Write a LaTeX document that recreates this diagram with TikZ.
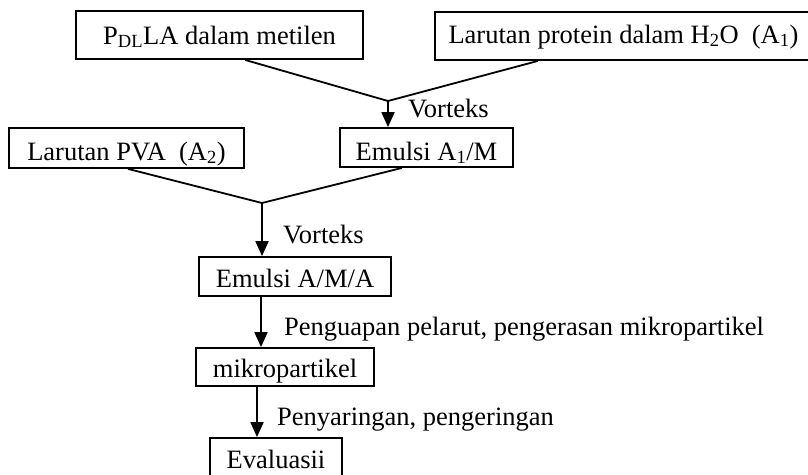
\documentclass[tikz,border=0pt]{standalone}
\usepackage{fontspec}
\setmainfont{Liberation Serif}
\usetikzlibrary{arrows.meta}
\tikzset{
  stepbox/.style={draw=black, line width=1.8pt, inner sep=0pt, align=center},
  joinline/.style={draw=black, line width=1.8pt},
  flowarrow/.style={draw=black, line width=1.8pt, -{Triangle[width=13pt,length=15pt]}},
  steplabel/.style={anchor=base west, inner sep=0pt},
}
\begin{document}
\begin{tikzpicture}[x=1pt,y=-1pt,font=\fontsize{26.5}{30}\selectfont]
\useasboundingbox (0,0) rectangle (808,474);
% boxes
\node[stepbox, minimum width=287pt, text height=33pt, text depth=15pt] (pdlla) at (219.5,35) {P\textsubscript{DL}LA dalam metilen};
\node[stepbox, minimum width=377pt, text height=31pt, text depth=17pt] (prot) at (623.5,36) {Larutan protein dalam H\textsubscript{2}O\ \ (A\textsubscript{1})};
\node[stepbox, minimum width=235pt, text height=32pt, text depth=8pt] (pva) at (126.5,148) {Larutan PVA\ \ (A\textsubscript{2})};
\node[stepbox, minimum width=173pt, text height=32pt, text depth=7pt] (aim) at (426.5,147.5) {Emulsi A\textsubscript{1}/M};
\node[stepbox, minimum width=192pt, text height=30pt, text depth=9pt] (ama) at (295,276.5) {Emulsi A/M/A};
\node[stepbox, minimum width=178pt, text height=29pt, text depth=9pt] (mikro) at (285,367) {mikropartikel};
\node[stepbox, minimum width=132pt, text height=30pt, text depth=10pt] (eval) at (276,458) {Evaluasii};
% junctions
\coordinate (j1) at (388,101);
\coordinate (j2) at (262,203);
% connectors
\draw[joinline] (pdlla.south -| 245,0) -- (j1);
\draw[joinline] (prot.south -| 538,0) -- (j1);
\draw[flowarrow] (j1) -- (j1 |- aim.north);
\draw[joinline] (pva.south -| 128,0) -- (j2);
\draw[joinline] (aim.south -| 402,0) -- (j2);
\draw[flowarrow] (j2) -- (j2 |- ama.north);
\draw[flowarrow] (ama.south -| 261,0) -- (mikro.north -| 261,0);
\draw[flowarrow] (mikro.south -| 257,0) -- (eval.north -| 257,0);
% labels
\node[steplabel] (v1) at (408,117) {Vorteks};
\node[steplabel] (v2) at (283,243) {Vorteks};
\node[steplabel] (l3) at (284,335) {Penguapan pelarut, pengerasan mikropartikel};
\node[steplabel] (l4) at (277,425) {Penyaringan, pengeringan};
\end{tikzpicture}
\end{document}
